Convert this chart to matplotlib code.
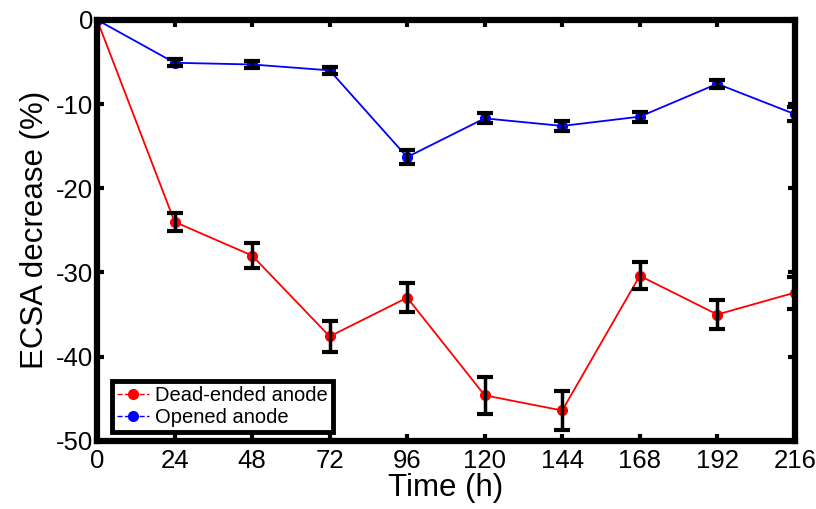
import numpy as np
import matplotlib.pyplot as plt
from matplotlib.lines import Line2D

plt.rcParams['font.family'] = ['Liberation Sans', 'DejaVu Sans']
plt.rcParams['axes.unicode_minus'] = False

time_h = [0, 24, 48, 72, 96, 120, 144, 168, 192, 216]
dead_ended = [0, -24.0, -28.0, -37.6, -33.0, -44.6, -46.4, -30.4, -35.0, -32.4]
dead_err = [0, 1.1, 1.5, 1.8, 1.7, 2.2, 2.3, 1.6, 1.7, 1.9]
opened = [0, -5.1, -5.3, -6.0, -16.3, -11.7, -12.6, -11.5, -7.6, -11.2]
opened_err = [0, 0.4, 0.4, 0.4, 0.8, 0.6, 0.6, 0.6, 0.5, 0.8]
xticks = [0, 24, 48, 72, 96, 120, 144, 168, 192, 216]
yticks = [0, -10, -20, -30, -40, -50]

fig = plt.figure(figsize=(8.16, 5.09), dpi=100)
ax = fig.add_axes([0.119, 0.134, 0.855, 0.827])

for y, e, c in [(dead_ended, dead_err, 'red'), (opened, opened_err, 'blue')]:
    ax.plot(time_h, y, color=c, lw=1.3, marker='o', ms=7, zorder=2)
    ax.errorbar(time_h[1:], y[1:], yerr=e[1:], fmt='none', ecolor='black',
                elinewidth=2.5, capsize=5.5, capthick=3, zorder=3)

ax.set_xlim(0, 216)
ax.set_ylim(-50, 0)
ax.set_xticks(xticks)
ax.set_yticks(yticks)
ax.tick_params(direction='in', length=5, width=3, labelsize=18.5,
               top=True, right=True)
ax.tick_params(axis='x', pad=6)
ax.tick_params(axis='y', pad=3)
for s in ax.spines.values():
    s.set_linewidth(4.5)
ax.set_xlabel('Time (h)', fontsize=22.5, labelpad=0)
ax.set_ylabel('ECSA decrease (%)', fontsize=22.5, labelpad=4)

handles = [Line2D([], [], color='red', ls='--', lw=1, marker='o', ms=7),
           Line2D([], [], color='blue', ls='--', lw=1, marker='o', ms=7)]
leg = ax.legend(handles, ['Dead-ended anode', 'Opened anode'], loc='lower left',
                fontsize=14.5, frameon=True, fancybox=False, edgecolor='black',
                framealpha=1, handlelength=1.6, handletextpad=0.3,
                borderpad=0.25, labelspacing=0.15, borderaxespad=0,
                bbox_to_anchor=(0.021, 0.021))
leg.get_frame().set_linewidth(3.5)

fig.savefig('out.png', dpi=100)
